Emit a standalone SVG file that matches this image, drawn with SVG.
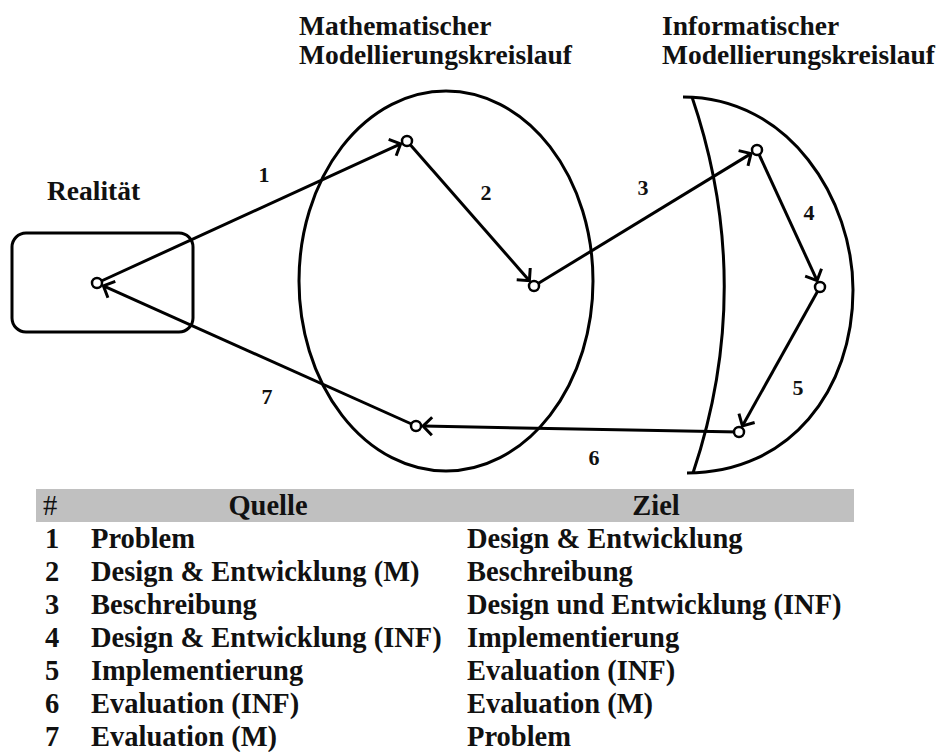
<svg xmlns="http://www.w3.org/2000/svg" width="941" height="752" viewBox="0 0 941 752">
<style>
text{font-family:"Liberation Serif","Times New Roman",serif;font-weight:bold;fill:#111}
.h{font-size:27.5px}
.n{font-size:22px;text-anchor:middle}
.t{font-size:28.5px}
.shape{fill:none;stroke:#000;stroke-width:3}
.node{fill:#fff;stroke:#000;stroke-width:2.5}
.c{fill:none;stroke:#000;stroke-width:3;marker-end:url(#arr)}
</style>
<defs>
<marker id="arr" markerUnits="userSpaceOnUse" markerWidth="24" markerHeight="24" viewBox="-12 -12 24 24" refX="0" refY="0" orient="auto" overflow="visible">
<path d="M-9,-9 L0,0 L-9,9" fill="none" stroke="#000" stroke-width="3"/>
</marker>
</defs>
<rect width="941" height="752" fill="#fff"/>

<g id="realitaet">
<text class="h" x="47" y="200">Realität</text>
<rect class="shape" x="12" y="233" width="181" height="99" rx="14"/>
</g>
<g id="math">
<text class="h" x="299" y="35">Mathematischer</text>
<text class="h" x="299" y="64">Modellierungskreislauf</text>
<ellipse class="shape" cx="446" cy="281" rx="147" ry="190"/>
</g>
<g id="info">
<text class="h" x="662" y="35">Informatischer</text>
<text class="h" x="662" y="64">Modellierungskreislauf</text>
<path class="shape" d="M683,97 C790,97 853,200 853,290 C853,390 790,473 687,473"/>
<path class="shape" d="M692,97 Q756,285 693,473"/>
</g>

<g id="connectors">
<line class="c" x1="97" y1="283" x2="400.6" y2="143.9"/>
<line class="c" x1="407" y1="141" x2="529.4" y2="280.7"/>
<line class="c" x1="534" y1="286" x2="751" y2="153.6"/>
<line class="c" x1="757" y1="150" x2="817.1" y2="280.6"/>
<line class="c" x1="820" y1="287" x2="742.4" y2="425.9"/>
<line class="c" x1="739" y1="432" x2="423" y2="426.1"/>
<line class="c" x1="416" y1="426" x2="103.4" y2="285.9"/>
<text class="n" x="264" y="182">1</text>
<text class="n" x="486" y="200">2</text>
<text class="n" x="643" y="195">3</text>
<text class="n" x="809" y="220">4</text>
<text class="n" x="798" y="395">5</text>
<text class="n" x="594" y="465">6</text>
<text class="n" x="267" y="404">7</text>
</g>

<g id="nodes">
<circle id="nR" class="node" cx="97" cy="283" r="5"/>
<circle id="nA" class="node" cx="407" cy="141" r="5"/>
<circle id="nB" class="node" cx="534" cy="286" r="5"/>
<circle id="nC" class="node" cx="416" cy="426" r="5"/>
<circle id="nD" class="node" cx="757" cy="150" r="5"/>
<circle id="nE" class="node" cx="820" cy="287" r="5"/>
<circle id="nF" class="node" cx="739" cy="432" r="5"/>
</g>

<g id="table">
<rect x="36" y="489" width="818" height="33" fill="#c0c0c0"/>
<text class="t" x="43" y="515" style="font-weight:normal">#</text>
<text class="t" x="268" y="515" text-anchor="middle">Quelle</text>
<text class="t" x="656" y="515" text-anchor="middle">Ziel</text>

<text class="t" x="45" y="548">1</text><text class="t" x="91" y="548">Problem</text><text class="t" x="467" y="548">Design &amp; Entwicklung</text>
<text class="t" x="45" y="581">2</text><text class="t" x="91" y="581">Design &amp; Entwicklung (M)</text><text class="t" x="467" y="581">Beschreibung</text>
<text class="t" x="45" y="614">3</text><text class="t" x="91" y="614">Beschreibung</text><text class="t" x="467" y="614">Design und Entwicklung (INF)</text>
<text class="t" x="45" y="647">4</text><text class="t" x="91" y="647">Design &amp; Entwicklung (INF)</text><text class="t" x="467" y="647">Implementierung</text>
<text class="t" x="45" y="680">5</text><text class="t" x="91" y="680">Implementierung</text><text class="t" x="467" y="680">Evaluation (INF)</text>
<text class="t" x="45" y="713">6</text><text class="t" x="91" y="713">Evaluation (INF)</text><text class="t" x="467" y="713">Evaluation (M)</text>
<text class="t" x="45" y="746">7</text><text class="t" x="91" y="746">Evaluation (M)</text><text class="t" x="467" y="746">Problem</text>
</g>
</svg>
